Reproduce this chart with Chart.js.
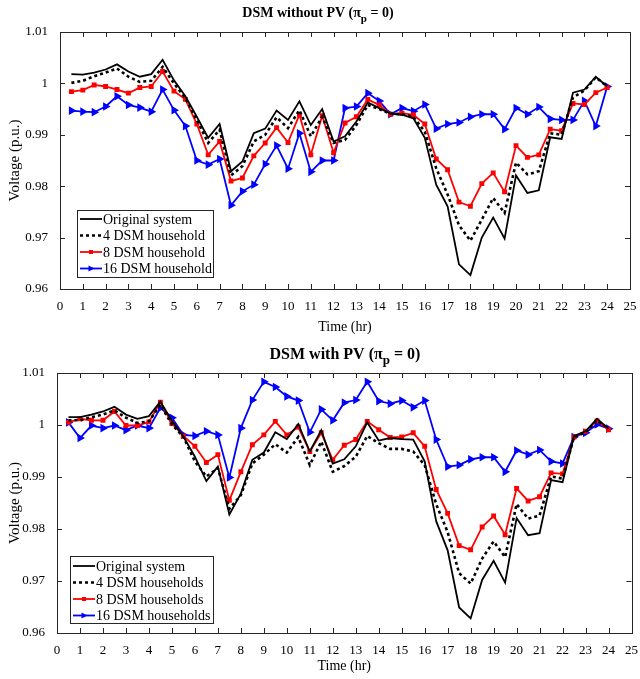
<!DOCTYPE html>
<html lang="en">
<head>
    <meta charset="UTF-8">
    <title>DSM voltage</title>
    <style>
        body { margin: 0; background: #fff; }
        canvas { display: block; }
    </style>
</head>
<body>
    <canvas id="topChart" width="640" height="340"></canvas>
    <canvas id="bottomChart" width="640" height="339"></canvas>

    <script src="https://cdn.jsdelivr.net/npm/chart.js"></script>

    <script>
    // time axis (hr)
    const hours = [0.5,1,1.5,2,2.5,3,3.5,4,4.5,5,5.5,6,6.5,7,7.5,8,8.5,9,9.5,10,10.5,11,11.5,12,
                   12.5,13,13.5,14,14.5,15,15.5,16,16.5,17,17.5,18,18.5,19,19.5,20,20.5,21,21.5,22,22.5,23,23.5,24]
    const yTicks = [0.96,0.97,0.98,0.99,1,1.01]

    // DSM without PV
    const noPvOriginal = [1.0018,1.0017,1.0021,1.0027,1.0037,1.0023,1.0013,1.0018,1.0046,1.0006,0.9975,0.9935,0.9894,0.9921,0.9829,0.9848,0.9903,0.9912,0.9947,0.9929,0.9965,0.9919,0.9950,0.9887,
                          0.9897,0.9926,0.9963,0.9952,0.9941,0.9939,0.9932,0.9894,0.9803,0.9761,0.9648,0.9627,0.9700,0.9739,0.9698,0.9821,0.9787,0.9792,0.9895,0.9892,0.9982,0.9988,1.0013,0.9994]
    const noPv4 = [1.0001,1.0005,1.0014,1.0021,1.0029,1.0013,1.0003,1.0005,1.0032,1.0000,0.9971,0.9929,0.9884,0.9910,0.9821,0.9839,0.9887,0.9900,0.9934,0.9913,0.9948,0.9897,0.9935,0.9884,
                   0.9890,0.9919,0.9958,0.9950,0.9941,0.9940,0.9935,0.9906,0.9835,0.9784,0.9724,0.9694,0.9735,0.9777,0.9748,0.9846,0.9823,0.9829,0.9903,0.9900,0.9973,0.9986,1.0012,0.9994]
    const noPv8 = [0.9984,0.9987,0.9997,0.9994,0.9988,0.9981,0.9992,0.9994,1.0023,0.9985,0.9969,0.9921,0.9861,0.9887,0.9810,0.9816,0.9859,0.9884,0.9914,0.9885,0.9939,0.9861,0.9937,0.9865,
                   0.9923,0.9935,0.9969,0.9958,0.9940,0.9942,0.9939,0.9921,0.9853,0.9832,0.9769,0.9761,0.9805,0.9826,0.9789,0.9879,0.9856,0.9861,0.9911,0.9908,0.9961,0.9959,0.9982,0.9992]
    const noPv16 = [0.9947,0.9945,0.9944,0.9955,0.9975,0.9958,0.9953,0.9945,0.9988,0.9948,0.9917,0.9850,0.9842,0.9853,0.9763,0.9790,0.9803,0.9843,0.9879,0.9834,0.9903,0.9828,0.9850,0.9850,
                    0.9952,0.9955,0.9981,0.9966,0.9940,0.9952,0.9946,0.9959,0.9912,0.9921,0.9924,0.9935,0.9940,0.9940,0.9911,0.9952,0.9940,0.9954,0.9931,0.9929,0.9929,0.9966,0.9917,0.9994]

    // DSM with PV
    const pvOriginal = [1.0015,1.0015,1.0020,1.0026,1.0035,1.0020,1.0012,1.0017,1.0045,1.0008,0.9978,0.9939,0.9892,0.9920,0.9828,0.9868,0.9933,0.9947,0.9986,0.9973,1.0002,0.9949,0.9990,0.9926,
                        0.9934,0.9959,1.0005,0.9970,0.9975,0.9973,0.9972,0.9930,0.9815,0.9759,0.9649,0.9628,0.9702,0.9739,0.9697,0.9821,0.9788,0.9792,0.9894,0.9890,0.9979,0.9988,1.0012,0.9993]
    const pv4 = [1.0009,1.0009,1.0015,1.0020,1.0028,1.0014,1.0004,1.0007,1.0039,1.0001,0.9977,0.9930,0.9901,0.9917,0.9839,0.9865,0.9926,0.9943,0.9963,0.9947,0.9977,0.9923,0.9968,0.9910,
                 0.9921,0.9939,0.9979,0.9965,0.9954,0.9954,0.9949,0.9923,0.9848,0.9794,0.9715,0.9695,0.9743,0.9776,0.9746,0.9848,0.9820,0.9826,0.9901,0.9897,0.9977,0.9986,1.0009,0.9993]
    const pv8 = [1.0005,1.0012,1.0009,1.0009,1.0026,0.9999,0.9999,1.0006,1.0044,1.0003,0.9979,0.9959,0.9928,0.9943,0.9855,0.9910,0.9962,0.9981,1.0007,0.9981,0.9996,0.9949,0.9985,0.9933,
                 0.9961,0.9972,1.0007,0.9991,0.9976,0.9977,0.9985,0.9959,0.9876,0.9830,0.9768,0.9760,0.9804,0.9825,0.9789,0.9878,0.9854,0.9862,0.9908,0.9906,0.9977,0.9988,1.0008,0.9991]
    const pv16 = [1.0005,0.9975,0.9999,0.9994,0.9999,0.9990,0.9999,0.9994,1.0033,1.0014,0.9981,0.9979,0.9988,0.9981,0.9899,0.9994,1.0048,1.0083,1.0073,1.0055,1.0047,0.9986,1.0030,1.0009,
                  1.0043,1.0048,1.0083,1.0046,1.0041,1.0047,1.0034,1.0047,0.9972,0.9920,0.9923,0.9934,0.9938,0.9938,0.9910,0.9951,0.9943,0.9952,0.9930,0.9926,0.9977,0.9985,1.0001,0.9993]

    const FONT = "'Liberation Serif', 'Times New Roman', serif"

    const pts = vals => vals.map((v, i) => ({x: hours[i], y: v}))

    function makeSets(orig, d4, d8, d16, plural) {
        const s = plural ? 's' : ''
        return [
            {label: 'Original system', data: pts(orig), borderColor: '#000', borderWidth: 1.8, pointRadius: 0},
            {label: '4 DSM household' + s, data: pts(d4), borderColor: '#000', borderWidth: 2.6, borderDash: [3, 3], pointRadius: 0},
            {label: '8 DSM household' + s, data: pts(d8), borderColor: '#ff0000', backgroundColor: '#ff0000', borderWidth: 1.8,
                pointStyle: 'rect', pointRadius: 2.2},
            {label: '16 DSM household' + s, data: pts(d16), borderColor: '#0000ff', backgroundColor: '#0000ff', borderWidth: 1.8,
                pointStyle: 'triangle', pointRotation: 90, pointRadius: 3.2}
        ]
    }

    // inward ticks on all four sides + box, like matlab
    const boxTicks = {
        id: 'boxTicks',
        afterDraw(chart) {
            const {ctx, chartArea: {left, right, top, bottom}, scales: {x, y}} = chart
            ctx.save()
            ctx.strokeStyle = '#262626'
            ctx.lineWidth = 1
            ctx.beginPath()
            x.ticks.forEach(t => {
                const px = Math.round(x.getPixelForValue(t.value)) + 0.5
                ctx.moveTo(px, bottom); ctx.lineTo(px, bottom - 5)
                ctx.moveTo(px, top); ctx.lineTo(px, top + 5)
            })
            y.ticks.forEach(t => {
                const py = Math.round(y.getPixelForValue(t.value)) + 0.5
                ctx.moveTo(left, py); ctx.lineTo(left + 5, py)
                ctx.moveTo(right, py); ctx.lineTo(right - 5, py)
            })
            ctx.stroke()
            ctx.strokeRect(Math.round(left) + 0.5, Math.round(top) + 0.5, Math.round(right - left), Math.round(bottom - top))
            ctx.restore()
        }
    }

    // title with subscript p
    const subTitle = {
        id: 'subTitle',
        afterDraw(chart, args, opts) {
            const ctx = chart.ctx
            const big = 'bold ' + opts.size + 'px ' + FONT, small = 'bold ' + Math.round(opts.size * 0.8) + 'px ' + FONT
            ctx.save()
            ctx.fillStyle = '#000'
            ctx.textBaseline = 'alphabetic'
            const a = opts.text + ' (\u03c0', b = 'p', c = ' = 0)'
            ctx.font = big
            const wa = ctx.measureText(a).width, wc = ctx.measureText(c).width
            ctx.font = small
            const wb = ctx.measureText(b).width
            let x0 = opts.cx - (wa + wb + wc) / 2
            ctx.font = big
            ctx.fillText(a, x0, opts.y)
            ctx.font = small
            ctx.fillText(b, x0 + wa, opts.y + 5)
            ctx.font = big
            ctx.fillText(c, x0 + wa + wb, opts.y)
            ctx.restore()
        }
    }

    // legend box drawn from the dataset styles
    const boxLegend = {
        id: 'boxLegend',
        afterDraw(chart, args, o) {
            const ctx = chart.ctx
            ctx.save()
            ctx.fillStyle = '#fff'
            ctx.fillRect(o.x, o.y, o.w, o.h)
            ctx.strokeStyle = '#262626'
            ctx.lineWidth = 1
            ctx.strokeRect(o.x + 0.5, o.y + 0.5, o.w, o.h)
            ctx.font = '14px ' + FONT
            ctx.textBaseline = 'middle'
            chart.data.datasets.forEach((ds, i) => {
                const cy = o.y + o.first + i * o.step
                const x1 = o.x + 3, x2 = o.x + 3 + o.line
                ctx.strokeStyle = ds.borderColor
                ctx.lineWidth = ds.borderWidth
                ctx.setLineDash(ds.borderDash || [])
                ctx.beginPath(); ctx.moveTo(x1, cy); ctx.lineTo(x2, cy); ctx.stroke()
                ctx.setLineDash([])
                const mx = (x1 + x2) / 2
                ctx.fillStyle = ds.borderColor
                if (ds.pointStyle === 'rect') {
                    ctx.fillRect(mx - 2, cy - 2, 4, 4)
                } else if (ds.pointStyle === 'triangle') {
                    ctx.beginPath(); ctx.moveTo(mx + 3.5, cy); ctx.lineTo(mx - 2.5, cy - 3); ctx.lineTo(mx - 2.5, cy + 3); ctx.closePath(); ctx.fill()
                }
                ctx.fillStyle = '#000'
                ctx.fillText(ds.label, x2 + 1, cy + 1)
            })
            ctx.restore()
        }
    }

    function makeChart(id, sets, cfg) {
        return new Chart(document.getElementById(id), {
            type: 'line',
            data: {datasets: sets},
            plugins: [boxTicks, subTitle, boxLegend],
            options: {
                responsive: false,
                animation: false,
                layout: {padding: {left: 0, right: cfg.right, top: cfg.top, bottom: 0}},
                elements: {line: {tension: 0}},
                plugins: {
                    legend: {display: false},
                    tooltip: {enabled: false},
                    subTitle: {text: cfg.title, cx: cfg.titleX, y: cfg.titleY, size: cfg.titleSize},
                    boxLegend: cfg.legend
                },
                scales: {
                    x: {
                        type: 'linear', min: 0, max: 25,
                        ticks: {stepSize: 1, color: '#000', font: {family: FONT, size: 13}, padding: 2, maxRotation: 0, autoSkip: false},
                        grid: {display: false}, border: {display: false},
                        title: {display: true, text: 'Time (hr)', color: '#000', font: {family: FONT, size: 14}, padding: {top: 2, bottom: 4}},
                        afterFit: s => { s.height = cfg.xh }
                    },
                    y: {
                        min: 0.96, max: 1.01,
                        afterBuildTicks: s => { s.ticks = yTicks.map(v => ({value: v})) },
                        ticks: {color: '#000', font: {family: FONT, size: 13}, padding: 4,
                            callback: v => String(+v.toFixed(2))},
                        grid: {display: false}, border: {display: false},
                        title: {display: true, text: 'Voltage (p.u.)', color: '#000', font: {family: FONT, size: 15}, padding: {top: 6, bottom: 4}},
                        afterFit: s => { s.width = cfg.yw }
                    }
                }
            }
        })
    }

    makeChart('topChart', makeSets(noPvOriginal, noPv4, noPv8, noPv16, false), {
        title: 'DSM without PV', titleX: 318, titleY: 17, titleSize: 14, top: 32, right: 10, xh: 51, yw: 60,
        legend: {x: 77, y: 210, w: 136, h: 67, first: 9, step: 16.5, line: 22}
    })
    makeChart('bottomChart', makeSets(pvOriginal, pv4, pv8, pv16, true), {
        title: 'DSM with PV', titleX: 345, titleY: 19, titleSize: 16, top: 33, right: 7, xh: 46, yw: 57,
        legend: {x: 70, y: 216, w: 143, h: 67, first: 10, step: 16.5, line: 22}
    })
    </script>
</body>
</html>
